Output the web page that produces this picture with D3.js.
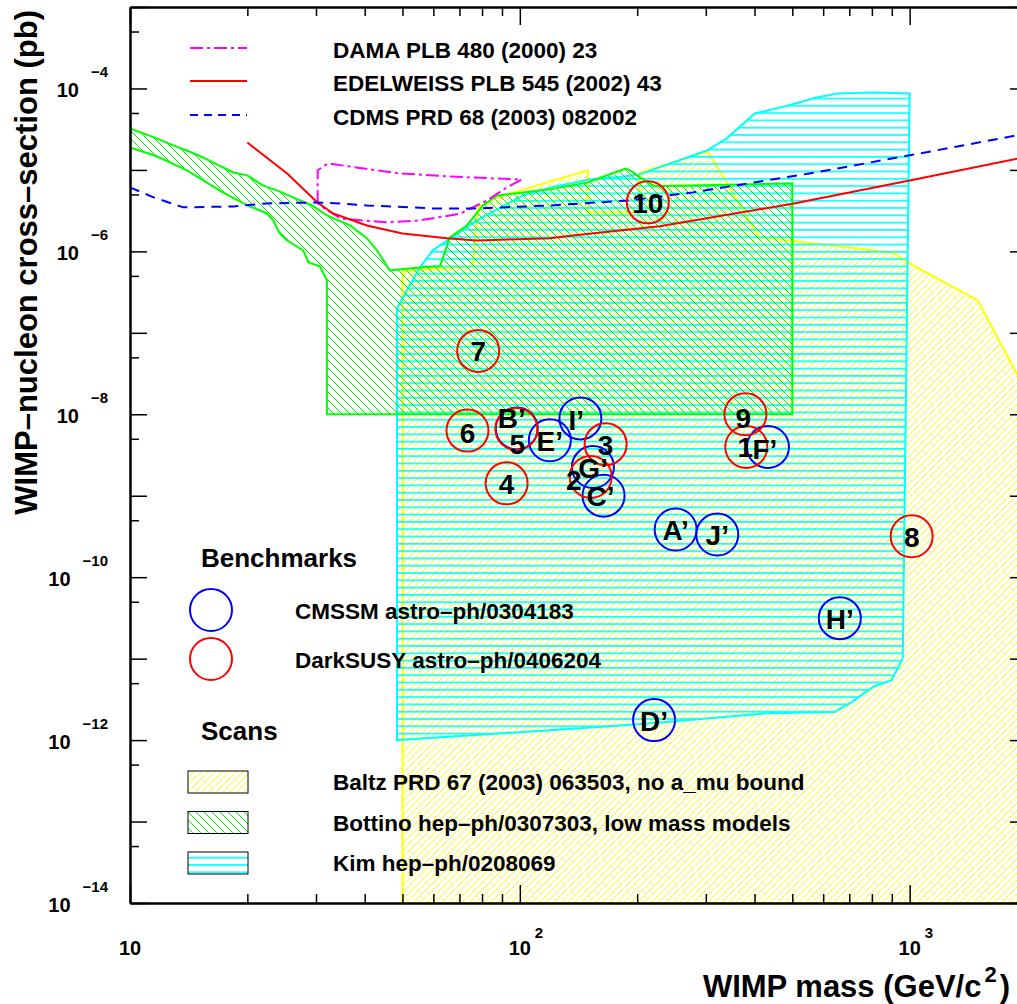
<!DOCTYPE html>
<html>
<head>
<meta charset="utf-8">
<script src="https://cdn.jsdelivr.net/npm/d3@7"></script>
<style>
body{margin:0;background:#fff;}
text{font-family:"Liberation Sans",Arial,Helvetica,sans-serif;font-weight:bold;fill:#000;}
</style>
</head>
<body>
<script>
// WIMP mass (GeV/c^2) vs WIMP-nucleon cross-section (pb)

var damaContour = [[30.3,3.9e-6],[30.3,9.9e-6],[32.2,1.2e-5],[49.2,9.05e-6],[66.1,8.3e-6],[101,7.6e-6],
  [92.6,6.1e-6],[82.3,4.2e-6],[70.2,2.9e-6],[55.4,2.4e-6],[45.1,2.27e-6],[34.6,2.54e-6],[30.7,3.66e-6]];

var edelweissLimit = [[20,2.17e-5],[25.3,9.05e-6],[30.2,4.0e-6],[33.2,2.92e-6],[40.5,2.08e-6],[50,1.66e-6],
  [65,1.45e-6],[77.6,1.36e-6],[92.6,1.4e-6],[119.4,1.45e-6],[136.8,1.57e-6],[228.6,2.03e-6],
  [501,3.85e-6],[1000,7.43e-6],[2000,1.45e-5]];

var cdmsLimit = [[10,6.1e-6],[11.5,4.6e-6],[13.7,3.47e-6],[18.4,3.56e-6],[22.45,3.88e-6],[30.2,3.99e-6],
  [34.6,3.88e-6],[40.5,3.66e-6],[59.8,3.37e-6],[77.6,3.37e-6],[119.4,3.66e-6],[192,4.23e-6],
  [277.7,5.3e-6],[554,9.05e-6],[1000,1.51e-5],[1881,2.65e-5],[2000,2.81e-5]];

var baltzScan = [[50,1e-14],[50,5.69e-7],[75.8,6.55e-7],[78,3.47e-6],[87.3,4.6e-6],[149.4,9.86e-6],
  [149.4,3.03e-6],[203,3.03e-6],[203,9.25e-6],[303.6,1.69e-5],[412,1.49e-6],[904,9.7e-7],
  [988,7.33e-7],[1494,2.51e-7],[1881,3.18e-8],[2000,1.88e-8],[2000,1e-14]];

var bottinoScan = [[9,3.9e-5],[10,3.23e-5],[11.7,2.44e-5],[12.9,2.0e-5],[14.0,1.73e-5],[15.4,1.42e-5],
  [16.3,1.24e-5],[18.4,9.31e-6],[20,8.57e-6],[21.9,6.46e-6],[23.8,5.6e-6],[26.2,4.6e-6],
  [29.3,3.66e-6],[32.0,2.77e-6],[36.7,2.08e-6],[40.5,1.45e-6],[43.0,1.03e-6],[46.4,5.85e-7],
  [56.4,6.37e-7],[62.4,6.55e-7],[63.8,8.93e-7],[66.1,1.49e-6],[73.1,2.08e-6],[80.4,3.66e-6],
  [87.3,4.86e-6],[119.4,5.77e-6],[149.4,7.03e-6],[175.2,9.31e-6],[187,1.04e-5],[193.7,9.6e-6],
  [203,8.09e-6],[222,6.28e-6],[500,6.83e-6],[500,1e-8],[32,1e-8],[32,4.41e-7],[30.7,6.55e-7],
  [28.7,7.33e-7],[27.8,1.03e-6],[25.3,1.36e-6],[24.2,1.66e-6],[23.3,2.4e-6],[22.45,2.92e-6],
  [20,3.66e-6],[17.3,5.3e-6],[14.0,9.86e-6],[11.7,1.47e-5],[10,1.89e-5],[9,2.3e-5]];

var kimScan = [[48.4,1e-12],[48.4,2.0e-7],[55.4,6.37e-7],[59.8,1.03e-6],[77.6,2.4e-6],[101.8,4.86e-6],
  [122.9,6.28e-6],[151,7.64e-6],[199.5,8.57e-6],[301.8,1.73e-5],[339.5,2.44e-5],[400.6,4.93e-5],
  [478,6.01e-5],[577,7.76e-5],[654,8.69e-5],[804,8.93e-5],[1000,8.69e-5],[960,1.01e-11],
  [899,5.45e-12],[804,4.47e-12],[710,2.92e-12],[642,2.21e-12],[430,2.14e-12],[222,1.62e-12],
  [160,1.45e-12]];

// benchmark points: [name, mass, cross-section]
var cmssmPoints = [["A\u2019",251,3.85e-10],["B\u2019",98.2,6.7e-9],["C\u2019",164,1.0e-9],
  ["D\u2019",221,1.76e-12],["E\u2019",119.4,4.8e-9],["F\u2019",433,3.97e-9],["G\u2019",154,2.25e-9],
  ["H\u2019",662,3.14e-11],["I\u2019",143,8.9e-9],["J\u2019",321,3.34e-10]];

var darksusyPoints = [["1",381,3.97e-9],["2",152,1.7e-9],["3",166,4.3e-9],["4",92.5,1.42e-9],
  ["5",98,6.6e-9],["6",73.4,6.3e-9],["7",78.2,6.0e-8],["8",1012,3.18e-10],["9",379,1.0e-8],
  ["10",213,4.0e-6]];

// where a label sits off its circle (pixels), so overlapping ones stay readable
var labelNudge = {"B\u2019":[-5,-11],"5":[1,15],"2":[-17,3],"I\u2019":[-4,1],"F\u2019":[-3,2],
  "9":[-2,3],"C\u2019":[-3,0],"6":[0,2],"1":[-1,0]};

var xMajorTicks = [10,100,1000];
var xMinorTicks = [20,30,40,50,60,70,80,90,200,300,400,500,600,700,800,900];
var yMajorTicks = [1e-14,1e-13,1e-12,1e-11,1e-10,1e-9,1e-8,1e-7,1e-6,1e-5,1e-4,1e-3];
var yMinorTicks = [5e-14,5e-13,5e-12,5e-11,5e-10,5e-9,5e-8,5e-7,5e-6,5e-5,5e-4];
var yLabelTicks = [1e-14,1e-12,1e-10,1e-8,1e-6,1e-4];

var limitLegend = ["DAMA PLB 480 (2000) 23","EDELWEISS PLB 545 (2002) 43","CDMS PRD 68 (2003) 082002"];
var benchLegend = ["CMSSM astro\u2013ph/0304183","DarkSUSY astro\u2013ph/0406204"];
var scanLegend = ["Baltz PRD 67 (2003) 063503, no a_mu bound","Bottino hep\u2013ph/0307303, low mass models",
  "Kim hep\u2013ph/0208069"];

var svg = d3.select("body").append("svg").attr("width",1017).attr("height",1004);

var x = d3.scaleLog().domain([10,2000]).range([130,1027]);
var y = d3.scaleLog().domain([1e-14,1e-3]).range([903,7]);

var defs = svg.append("defs");
defs.append("clipPath").attr("id","plotclip")
  .append("rect").attr("x",130).attr("y",7).attr("width",897).attr("height",896);

var add_hatch = function(id,w,h,d,color,sw){
  defs.append("pattern").attr("id",id).attr("patternUnits","userSpaceOnUse")
    .attr("width",w).attr("height",h)
    .append("path").attr("d",d).attr("fill","none")
    .attr("stroke",color).attr("stroke-width",sw);
};
add_hatch("hatch_baltz",7,7,"M-1,1 l2,-2 M0,7 l7,-7 M6,8 l2,-2","#ffff00",1);
add_hatch("hatch_bottino",8,8,"M-1,-1 l2,2 M0,0 l8,8 M7,7 l2,2","#00ff00",1);
add_hatch("hatch_kim",10,7.3,"M0,3.6 h10","#00ffff",1.6);

var line = d3.line().x(function(d){return x(d[0]);}).y(function(d){return y(d[1]);});

var plot = svg.append("g").attr("clip-path","url(#plotclip)");

var draw_scan = function(data,pattern,color){
  plot.append("path").attr("d",line(data)+"Z")
    .attr("fill","url(#"+pattern+")").attr("stroke",color).attr("stroke-width",2);
};
draw_scan(baltzScan,"hatch_baltz","#ffff00");
draw_scan(kimScan,"hatch_kim","#00ffff");
draw_scan(bottinoScan,"hatch_bottino","#00ff00");

plot.append("path").attr("d",line(damaContour)+"Z").attr("fill","none")
  .attr("stroke","#ff00ff").attr("stroke-width",2).attr("stroke-dasharray","13,4,3,4");
plot.append("path").attr("d",line(edelweissLimit)).attr("fill","none")
  .attr("stroke","#ff0000").attr("stroke-width",2);
plot.append("path").attr("d",line(cdmsLimit)).attr("fill","none")
  .attr("stroke","#0000ff").attr("stroke-width",2).attr("stroke-dasharray","10,7");

//benchmark circles, then their labels on top
var draw_circles = function(points,color){
  plot.selectAll(null).data(points).enter().append("circle")
    .attr("cx",function(d){return x(d[1]);})
    .attr("cy",function(d){return y(d[2]);})
    .attr("r",21).attr("fill","none").attr("stroke",color).attr("stroke-width",2);
};
draw_circles(cmssmPoints,"#0000ff");
draw_circles(darksusyPoints,"#ff0000");

var draw_labels = function(points){
  plot.selectAll(null).data(points).enter().append("text")
    .attr("x",function(d){return x(d[1]) + (labelNudge[d[0]] ? labelNudge[d[0]][0] : 0);})
    .attr("y",function(d){return y(d[2]) + 10.5 + (labelNudge[d[0]] ? labelNudge[d[0]][1] : 0);})
    .attr("text-anchor","middle").style("font-size","28px")
    .text(function(d){return d[0];});
};
draw_labels(cmssmPoints);
draw_labels(darksusyPoints);

// axes, ROOT style: ticks pointing into the frame
var style_axis = function(g,width){
  g.select(".domain").attr("stroke","#000").attr("stroke-width",2);
  g.selectAll(".tick line").attr("stroke","#000").attr("stroke-width",width);
};
var add_axis = function(axis,tf){
  var g = svg.append("g").attr("transform",tf).call(axis);
  style_axis(g,1.5);
};
add_axis(d3.axisTop(x).tickValues(xMajorTicks).tickSize(18).tickSizeOuter(0).tickFormat(""),"translate(0,903)");
add_axis(d3.axisTop(x).tickValues(xMinorTicks).tickSize(9).tickSizeOuter(0).tickFormat(""),"translate(0,903)");
add_axis(d3.axisBottom(x).tickValues(xMajorTicks).tickSize(18).tickSizeOuter(0).tickFormat(""),"translate(0,7)");
add_axis(d3.axisBottom(x).tickValues(xMinorTicks).tickSize(9).tickSizeOuter(0).tickFormat(""),"translate(0,7)");
add_axis(d3.axisRight(y).tickValues(yMajorTicks).tickSize(17).tickSizeOuter(0).tickFormat(""),"translate(130,0)");
add_axis(d3.axisRight(y).tickValues(yMinorTicks).tickSize(9).tickSizeOuter(0).tickFormat(""),"translate(130,0)");
add_axis(d3.axisLeft(y).tickValues(yMajorTicks).tickSize(17).tickSizeOuter(0).tickFormat(""),"translate(1027,0)");
add_axis(d3.axisLeft(y).tickValues(yMinorTicks).tickSize(9).tickSizeOuter(0).tickFormat(""),"translate(1027,0)");

yLabelTicks.forEach(function(v){
  var e = Math.round(Math.log10(v));
  var t = svg.append("text").attr("x",108).attr("y",y(v)+9)
    .attr("text-anchor","end").style("font-size","20px");
  t.append("tspan").text("10");
  t.append("tspan").attr("dx",12).attr("dy",-20).style("font-size","15px").text("\u2212"+(-e));
});

xMajorTicks.forEach(function(v){
  var e = Math.round(Math.log10(v));
  svg.append("text").attr("x",x(v)).attr("y",955).attr("text-anchor","middle")
    .style("font-size","20px").text("10");
  if(e > 1)
    svg.append("text").attr("x",x(v)+15).attr("y",938).style("font-size","15px").text(e);
});

var xt = svg.append("text").attr("x",1010).attr("y",997).attr("text-anchor","end").style("font-size","31px");
xt.append("tspan").text("WIMP mass (GeV/c");
xt.append("tspan").attr("dy",-15).attr("dx",3).style("font-size","22px").text("2");
xt.append("tspan").attr("dy",15).attr("dx",3).text(")");

svg.append("text").attr("transform","translate(37,10) rotate(-90)")
  .attr("text-anchor","end").style("font-size","31px")
  .text("WIMP\u2013nucleon cross\u2013section (pb)");

//legend for the limit curves
var legendStyles = [["#ff00ff","13,4,3,4"],["#ff0000",null],["#0000ff","8,6"]];
var legendLineY = [48,81,115];
limitLegend.forEach(function(name,i){
  svg.append("line").attr("x1",190).attr("x2",247).attr("y1",legendLineY[i]).attr("y2",legendLineY[i])
    .attr("stroke",legendStyles[i][0]).attr("stroke-width",2)
    .attr("stroke-dasharray",legendStyles[i][1]);
  svg.append("text").attr("x",333).attr("y",legendLineY[i]+10).style("font-size","22.5px").text(name);
});

//benchmarks legend
svg.append("text").attr("x",201).attr("y",567).style("font-size","26px").text("Benchmarks");
[["#0000ff",610],["#ff0000",659]].forEach(function(c,i){
  svg.append("circle").attr("cx",211).attr("cy",c[1]).attr("r",21)
    .attr("fill","none").attr("stroke",c[0]).attr("stroke-width",2);
  svg.append("text").attr("x",295).attr("y",c[1]+9).style("font-size","22.5px").text(benchLegend[i]);
});

//scans legend
svg.append("text").attr("x",201).attr("y",740).style("font-size","26px").text("Scans");
["hatch_baltz","hatch_bottino","hatch_kim"].forEach(function(p,i){
  var top = 771 + i*40.5;
  svg.append("rect").attr("x",188).attr("y",top).attr("width",60).attr("height",22)
    .attr("fill","url(#"+p+")").attr("stroke","#000").attr("stroke-width",1);
  svg.append("text").attr("x",333).attr("y",top+19).style("font-size","22.5px").text(scanLegend[i]);
});
</script>
</body>
</html>
